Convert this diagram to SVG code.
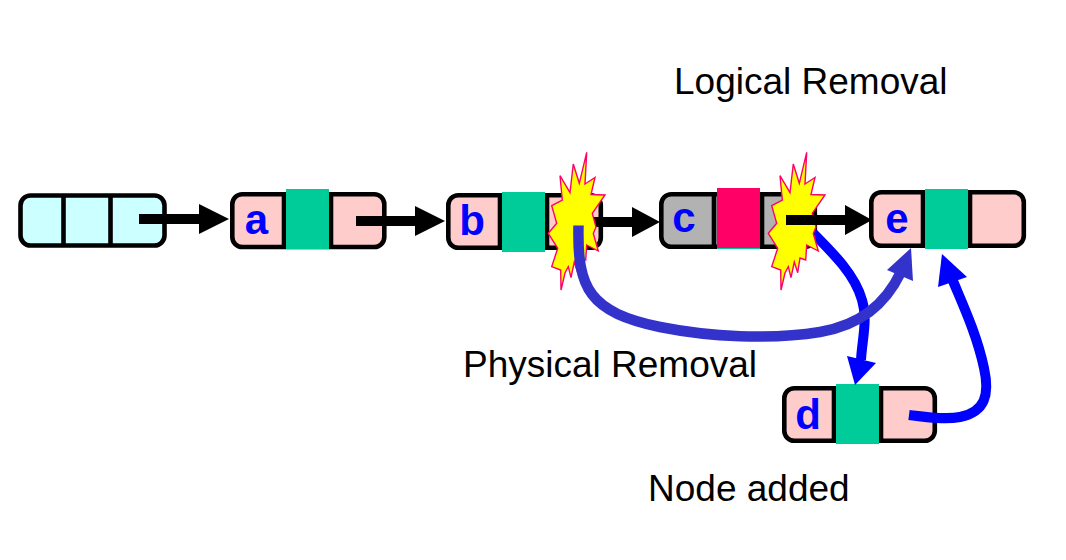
<svg xmlns="http://www.w3.org/2000/svg" xmlns:xlink="http://www.w3.org/1999/xlink" width="1066" height="560" viewBox="0 0 1066 560">
<style>
.box{stroke:#000;stroke-width:4.6}
.pink{fill:#ffcccc}
.div{stroke:#000;stroke-width:4.6}
.green{fill:#00cc99}
.letter{font-family:"Liberation Sans",Arial,sans-serif;font-weight:bold;font-size:42px;fill:#0000ff;text-anchor:middle}
.label{font-family:"Liberation Sans",Arial,sans-serif;font-size:37px;fill:#000}
.blk{fill:none;stroke:#000;stroke-width:10}
.blue{fill:none;stroke:#0000ff;stroke-width:10}
.ind{fill:none;stroke:#3333cc;stroke-width:10.5}
.star{fill:#ffff00;stroke:#ff0066;stroke-width:1.4;stroke-linejoin:miter}
</style>
<defs>
<polygon id="star" class="star" points="46.7,7.3 45,39 55,32.5 51,49.5 65,50 52.3,68.3 56,82 53.3,88.5 58.3,106 46.7,100 45.7,115 40,113 37.7,127.7 34.3,117 31,132.7 28.3,121.7 25,128 21,145 20.7,125 11.7,121.7 17.7,103.3 8.3,88.3 16.7,78.3 11.7,60.7 22.3,55 20,30.7 30,47.7 33.3,19 39.3,38.3"/>
</defs>
<g id="sentinel">
<rect class="box" x="20.5" y="195.5" width="144" height="50" rx="10" fill="#ccffff"/>
<path class="div" d="M63.5 195.5V245.5M110.5 195.5V245.5"/>
</g>
<g id="node-a">
<rect class="box pink" x="232.3" y="194.3" width="152" height="52.7" rx="10"/>
<path class="div" d="M284 194.3V247M331 194.3V247"/>
<rect class="green" x="286" y="189" width="43" height="60"/>
<text class="letter" x="256.500" y="234">a</text>
</g>
<g id="node-b">
<rect class="box pink" x="448.300" y="195.300" width="152.500" height="52.500" rx="10"/>
<path class="div" d="M500 195.300V247.800M547 195.300V247.800"/>
<rect class="green" x="502" y="192" width="43" height="60"/>
<text class="letter" x="472" y="235">b</text>
</g>
<g id="node-c">
<rect class="box" x="661.300" y="194.300" width="153.500" height="52.500" rx="10" fill="#b2b2b2"/>
<path class="div" d="M714 194.300V246.800M762 194.300V246.800"/>
<rect class="green" x="717" y="189" width="43" height="60"/>
<rect x="717" y="188" width="43" height="60" fill="#ff0066"/>
<text class="letter" x="684" y="232">c</text>
</g>
<g id="node-e">
<rect class="box pink" x="871.300" y="192.300" width="152.500" height="53.500" rx="10"/>
<path class="div" d="M923 192.300V245.800M970 192.300V245.800"/>
<rect class="green" x="925" y="189" width="43" height="60"/>
<text class="letter" x="897" y="233">e</text>
</g>
<g id="node-d">
<rect class="box pink" x="784.300" y="388.300" width="150.500" height="52.500" rx="10"/>
<path class="div" d="M834 388.300V440.800M881 388.300V440.800"/>
<rect class="green" x="836" y="384" width="43" height="60"/>
<text class="letter" x="808" y="429">d</text>
</g>
<g id="connectors">
<path class="blk" d="M139 219H202"/><polygon points="199,204 229,219 199,234"/>
<path class="blk" d="M356 221H418"/><polygon points="415,206 445,221 415,236"/>
<path class="blk" d="M590 222H635"/><polygon points="632,207 660,222 632,237"/>
<path class="blue" d="M810 230C835 255 855 275 862 300C868 320 862 340 861 360"/><polygon points="855,385 847,356 876,363" fill="#0000ff"/>
<use xlink:href="#star" href="#star" x="540" y="145"/>
<use xlink:href="#star" href="#star" x="760" y="145"/>
<path class="ind" d="M578.500 225.500C577 290 590 312 660 327C710 337 770 340 820 332C860 325 885 305 901 272"/><polygon points="911,248 887,270 913,281" fill="#3333cc"/>
<path class="blue" d="M909 415C925 417 945 420 960 417C985 412 990 395 984 368C977 335 963 305 953 281"/><polygon points="942,254 938,287 967,277" fill="#0000ff"/>
<path class="blk" d="M786 220H848"/><polygon points="845,205 872,220 845,235"/>
</g>
<text class="label" x="674" y="94">Logical Removal</text>
<text class="label" x="463" y="377">Physical Removal</text>
<text class="label" x="648" y="501">Node added</text>
</svg>
